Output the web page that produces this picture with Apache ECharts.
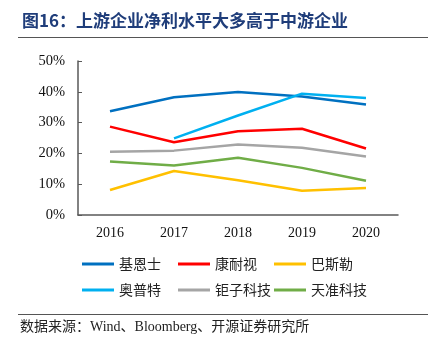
<!DOCTYPE html>
<html>
<head>
<meta charset="utf-8">
<script src="https://cdn.jsdelivr.net/npm/echarts@6/dist/echarts.min.js"></script>
<style>
  html, body { margin: 0; padding: 0; background: #fff; }
  #chart { width: 435px; height: 352px; }
</style>
</head>
<body>
<div id="chart"></div>
<script>
// data
const years = ['2016', '2017', '2018', '2019', '2020']
const keyence = [33.7, 38.2, 39.9, 38.5, 35.9]
const cognex = [28.7, 23.6, 27.2, 28.0, 21.6]
const basler = [8.1, 14.3, 11.3, 7.9, 8.8]
const opt = [null, 24.9, 32.3, 39.4, 38.0]
const juzi = [20.5, 20.9, 22.9, 21.8, 19.0]
const tianzhun = [17.4, 16.1, 18.6, 15.3, 11.1]
const yTicks = [0, 10, 20, 30, 40, 50]

const names = ['基恩士', '康耐视', '巴斯勒', '奥普特', '钜子科技', '天准科技']
const values = [keyence, cognex, basler, opt, juzi, tianzhun]
const colors = ['#0070C0', '#FF0000', '#FFC000', '#00B0F0', '#A5A5A5', '#70AD47']

const serif = '"Liberation Serif", "Noto Sans CJK SC", serif'
const cjk = '"Noto Sans CJK SC", sans-serif'

const legendPos = [
    [77, 252], [173, 252], [269, 252],
    [77, 278], [173, 278], [269, 278]
]

let chart = echarts.init(document.getElementById('chart'), null, { renderer: 'canvas' })
chart.setOption({
    animation: false,
    backgroundColor: '#fff',
    grid: { left: 78, right: 37, top: 61, bottom: 137 },
    legend: names.map((n, i) => ({
        data: [n],
        left: legendPos[i][0],
        top: legendPos[i][1],
        itemWidth: 32,
        itemHeight: 3,
        itemGap: 4,
        icon: 'rect',
        textStyle: { fontFamily: cjk, fontSize: 14, color: '#222' }
    })),
    xAxis: {
        type: 'category',
        data: years,
        boundaryGap: true,
        axisLine: { lineStyle: { color: '#595959', width: 1.5 } },
        axisTick: { inside: true, length: 4, lineStyle: { color: '#595959' } },
        axisLabel: { fontFamily: serif, fontSize: 14, color: '#111', margin: 11 }
    },
    yAxis: {
        type: 'value',
        min: yTicks[0],
        max: yTicks[yTicks.length - 1],
        interval: 10,
        splitLine: { show: false },
        axisLine: { show: true, lineStyle: { color: '#595959', width: 1.5 } },
        axisTick: { show: true, inside: true, length: 4, lineStyle: { color: '#595959' } },
        axisLabel: { fontFamily: serif, fontSize: 14.5, color: '#111', margin: 13, formatter: '{value}%' }
    },
    series: names.map((n, i) => ({
        name: n,
        type: 'line',
        data: values[i],
        symbol: 'none',
        connectNulls: false,
        lineStyle: { width: 2.5, color: colors[i] },
        itemStyle: { color: colors[i] }
    })),
    graphic: [
        {
            type: 'text', left: 22, top: 12,
            style: { text: '图16：上游企业净利水平大多高于中游企业', fontFamily: cjk, fontSize: 17, fontWeight: 'bold', fill: '#1F3D7A' }
        },
        {
            type: 'line', shape: { x1: 18, y1: 37.5, x2: 428, y2: 37.5 },
            style: { stroke: '#555', lineWidth: 1 }
        },
        {
            type: 'line', shape: { x1: 18, y1: 314.5, x2: 428, y2: 314.5 },
            style: { stroke: '#555', lineWidth: 1 }
        },
        {
            type: 'text', left: 20, top: 320,
            style: { text: '数据来源：Wind、Bloomberg、开源证券研究所', fontFamily: serif, fontSize: 14, fill: '#222' }
        }
    ]
})
</script>
</body>
</html>
